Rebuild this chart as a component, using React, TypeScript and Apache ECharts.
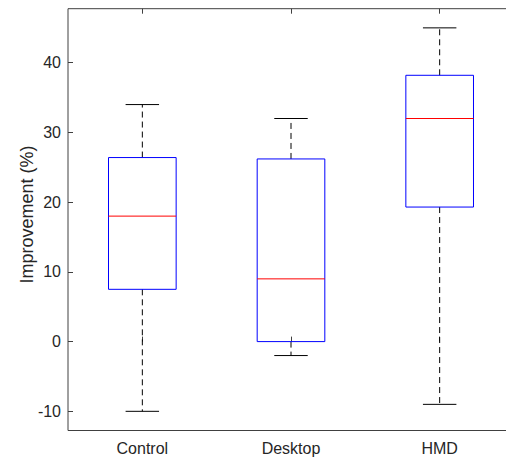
import React, { useEffect, useRef } from "react";
import * as echarts from "echarts";

const categories = ["Control", "Desktop", "HMD"];
const lowerWhisker = [-10, -2, -9];
const q1 = [7.5, 0, 19.3];
const median = [18, 9, 32];
const q3 = [26.4, 26.2, 38.2];
const upperWhisker = [34, 32, 45];
const yTicks = [-10, 0, 10, 20, 30, 40];

export default function App() {
  const ref = useRef<HTMLDivElement>(null);
  useEffect(() => {
    document.body.style.margin = "0";
    const chart = echarts.init(ref.current!, null, { renderer: "svg" });
    const font = "'Liberation Sans', Arial, Helvetica, sans-serif";
    const axisColor = "#404040";
    const data = categories.map((_, i) => [i, lowerWhisker[i], q1[i], median[i], q3[i], upperWhisker[i]]);
    chart.setOption({
      animation: false,
      grid: {
        left: 68,
        top: 8.7,
        width: 446,
        height: 421.8,
        containLabel: false,
        outerBoundsMode: "none",
        show: true,
        borderColor: axisColor,
        borderWidth: 1,
        backgroundColor: "#fff",
      },
      xAxis: [
        {
          type: "category",
          data: categories,
          position: "bottom",
          axisLine: { show: false },
          axisTick: { show: true, inside: true, length: 5, alignWithLabel: true, lineStyle: { color: axisColor } },
          axisLabel: { color: "#262626", fontSize: 16, fontFamily: font, margin: 10 },
          splitLine: { show: false },
        },
        {
          type: "category",
          data: categories,
          position: "top",
          axisLine: { show: false },
          axisTick: { show: true, inside: true, length: 5, alignWithLabel: true, lineStyle: { color: axisColor } },
          axisLabel: { show: false },
          splitLine: { show: false },
        },
      ],
      yAxis: {
        type: "value",
        min: -12.75,
        max: 47.75,
        axisLine: { show: false },
        axisTick: { show: true, inside: true, length: 5, customValues: yTicks, lineStyle: { color: axisColor } },
        axisLabel: { color: "#262626", fontSize: 16, fontFamily: font, margin: 7, customValues: yTicks },
        splitLine: { show: false },
      },
      graphic: [
        {
          type: "text",
          x: 27,
          y: 214.5,
          rotation: Math.PI / 2,
          style: { text: "Improvement (%)", fill: "#262626", fontSize: 18, fontFamily: font, align: "center", verticalAlign: "middle" },
        },
      ],
      series: [
        {
          type: "custom",
          xAxisIndex: 0,
          data,
          renderItem: (params: any, api: any) => {
            const idx = api.value(0);
            const band = api.size([1, 0])[0];
            const halfBox = band * 0.2275;
            const halfCap = band * 0.1125;
            const pLow = api.coord([idx, api.value(1)]);
            const pQ1 = api.coord([idx, api.value(2)]);
            const pMed = api.coord([idx, api.value(3)]);
            const pQ3 = api.coord([idx, api.value(4)]);
            const pHigh = api.coord([idx, api.value(5)]);
            const cx = pMed[0];
            const dash = { stroke: "#000", lineWidth: 1, lineDash: [6, 4] };
            const solid = { stroke: "#000", lineWidth: 1 };
            return {
              type: "group",
              children: [
                { type: "line", shape: { x1: cx, y1: pQ3[1], x2: cx, y2: pHigh[1] }, style: dash },
                { type: "line", shape: { x1: cx, y1: pQ1[1], x2: cx, y2: pLow[1] }, style: dash },
                { type: "line", shape: { x1: cx - halfCap, y1: pHigh[1], x2: cx + halfCap, y2: pHigh[1] }, style: solid },
                { type: "line", shape: { x1: cx - halfCap, y1: pLow[1], x2: cx + halfCap, y2: pLow[1] }, style: solid },
                {
                  type: "rect",
                  shape: { x: cx - halfBox, y: pQ3[1], width: 2 * halfBox, height: pQ1[1] - pQ3[1] },
                  style: { fill: "none", stroke: "#0000ff", lineWidth: 1 },
                },
                { type: "line", shape: { x1: cx - halfBox, y1: pMed[1], x2: cx + halfBox, y2: pMed[1] }, style: { stroke: "#ff0000", lineWidth: 1 } },
              ],
            };
          },
        },
      ],
    });
    return () => chart.dispose();
  }, []);
  return <div ref={ref} style={{ width: 506, height: 459 }} />;
}
